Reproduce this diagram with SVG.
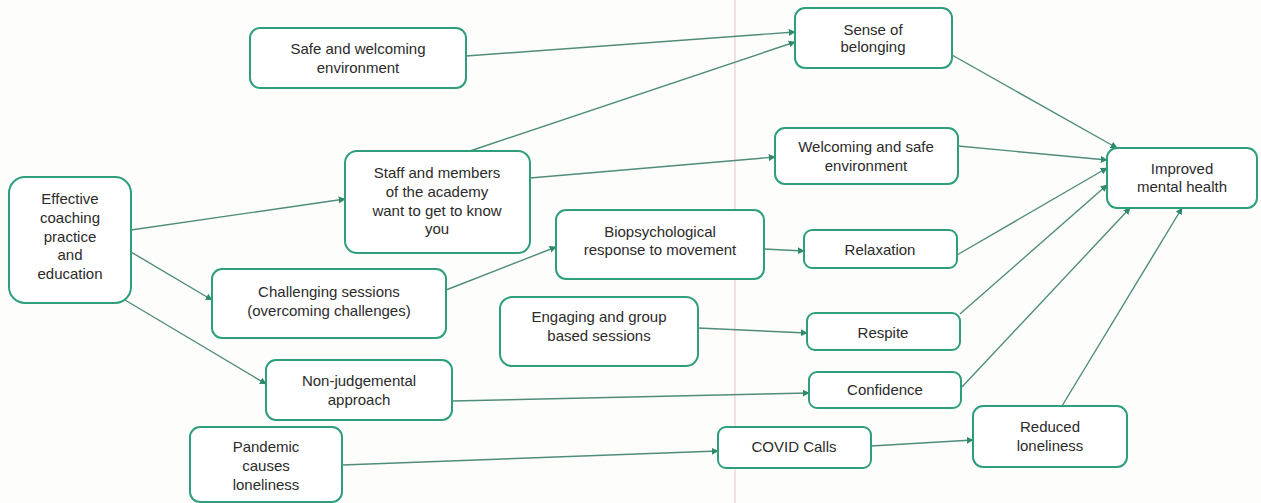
<svg xmlns="http://www.w3.org/2000/svg" width="1261" height="503" viewBox="0 0 1261 503">
<style>
.box{fill:#ffffff;stroke:#2f9e7c;stroke-width:2}
.t{font-family:"Liberation Sans",Arial,sans-serif;font-size:15px;fill:#2b2b2b;text-anchor:middle}
.e{stroke:#4f8c7a;stroke-width:1.4;fill:none;marker-end:url(#ah)}
</style>
<defs>
<marker id="ah" viewBox="0 0 10 10" refX="9" refY="5" markerWidth="7" markerHeight="7" markerUnits="userSpaceOnUse" orient="auto"><path d="M0,0 L10,5 L0,10 z" fill="#2e8a6a"/></marker>
</defs>
<rect width="1261" height="503" fill="#fdfdfc"/>
<line x1="735" y1="0" x2="735" y2="503" stroke="#f0d4d8" stroke-width="1.5"/>
<g id="connectors">
<line class="e" x1="466" y1="56" x2="795" y2="32"/>
<line class="e" x1="470" y1="151" x2="795" y2="42"/>
<line class="e" x1="530" y1="178" x2="775" y2="157"/>
<line class="e" x1="131" y1="230" x2="345" y2="199"/>
<line class="e" x1="131" y1="252" x2="212" y2="300"/>
<line class="e" x1="125" y1="300" x2="266" y2="384"/>
<line class="e" x1="446" y1="290" x2="556" y2="247"/>
<line class="e" x1="764" y1="249" x2="804" y2="251"/>
<line class="e" x1="698" y1="328" x2="807" y2="333"/>
<line class="e" x1="452" y1="401" x2="809" y2="393"/>
<line class="e" x1="342" y1="465" x2="718" y2="451"/>
<line class="e" x1="871" y1="446" x2="973" y2="440"/>
<line class="e" x1="952" y1="55" x2="1117" y2="148"/>
<line class="e" x1="958" y1="146" x2="1107" y2="160"/>
<line class="e" x1="957" y1="255" x2="1107" y2="168"/>
<line class="e" x1="960" y1="314" x2="1107" y2="185"/>
<line class="e" x1="962" y1="387" x2="1130" y2="208"/>
<line class="e" x1="1062" y1="406" x2="1182" y2="208"/>
</g>
<g id="safe"><rect class="box" x="250" y="28" width="216" height="60" rx="10"/><text class="t" x="358" y="54">Safe and welcoming</text><text class="t" x="358" y="73">environment</text></g>
<g id="sense"><rect class="box" x="795" y="8" width="157" height="60" rx="10"/><text class="t" x="873" y="35">Sense of</text><text class="t" x="873" y="52">belonging</text></g>
<g id="staff"><rect class="box" x="345" y="151" width="185" height="102" rx="12"/><text class="t" x="437" y="178">Staff and members</text><text class="t" x="437" y="197">of the academy</text><text class="t" x="437" y="216">want to get to know</text><text class="t" x="437" y="234">you</text></g>
<g id="welcoming"><rect class="box" x="775" y="128" width="183" height="56" rx="10"/><text class="t" x="866" y="152">Welcoming and safe</text><text class="t" x="866" y="171">environment</text></g>
<g id="improved"><rect class="box" x="1107" y="148" width="150" height="60" rx="10"/><text class="t" x="1182" y="174">Improved</text><text class="t" x="1182" y="192">mental health</text></g>
<g id="effective"><rect class="box" x="9" y="177" width="122" height="126" rx="16"/><text class="t" x="70" y="204">Effective</text><text class="t" x="70" y="223">coaching</text><text class="t" x="70" y="242">practice</text><text class="t" x="70" y="260">and</text><text class="t" x="70" y="279">education</text></g>
<g id="biopsych"><rect class="box" x="556" y="210" width="208" height="69" rx="10"/><text class="t" x="660" y="237">Biopsychological</text><text class="t" x="660" y="255">response to movement</text></g>
<g id="relaxation"><rect class="box" x="804" y="230" width="153" height="38" rx="8"/><text class="t" x="880" y="255">Relaxation</text></g>
<g id="challenging"><rect class="box" x="212" y="269" width="234" height="69" rx="10"/><text class="t" x="329" y="297">Challenging sessions</text><text class="t" x="329" y="316">(overcoming challenges)</text></g>
<g id="engaging"><rect class="box" x="500" y="297" width="198" height="69" rx="12"/><text class="t" x="599" y="322">Engaging and group</text><text class="t" x="599" y="341">based sessions</text></g>
<g id="respite"><rect class="box" x="807" y="313" width="153" height="37" rx="8"/><text class="t" x="883" y="338">Respite</text></g>
<g id="nonjudgemental"><rect class="box" x="266" y="360" width="186" height="60" rx="10"/><text class="t" x="359" y="386">Non-judgemental</text><text class="t" x="359" y="405">approach</text></g>
<g id="confidence"><rect class="box" x="809" y="372" width="152" height="36" rx="8"/><text class="t" x="885" y="395">Confidence</text></g>
<g id="pandemic"><rect class="box" x="190" y="427" width="152" height="75" rx="10"/><text class="t" x="266" y="452">Pandemic</text><text class="t" x="266" y="471">causes</text><text class="t" x="266" y="490">loneliness</text></g>
<g id="covid"><rect class="box" x="718" y="427" width="153" height="41" rx="8"/><text class="t" x="794" y="452">COVID Calls</text></g>
<g id="reduced"><rect class="box" x="973" y="406" width="154" height="61" rx="10"/><text class="t" x="1050" y="432">Reduced</text><text class="t" x="1050" y="451">loneliness</text></g>
</svg>
